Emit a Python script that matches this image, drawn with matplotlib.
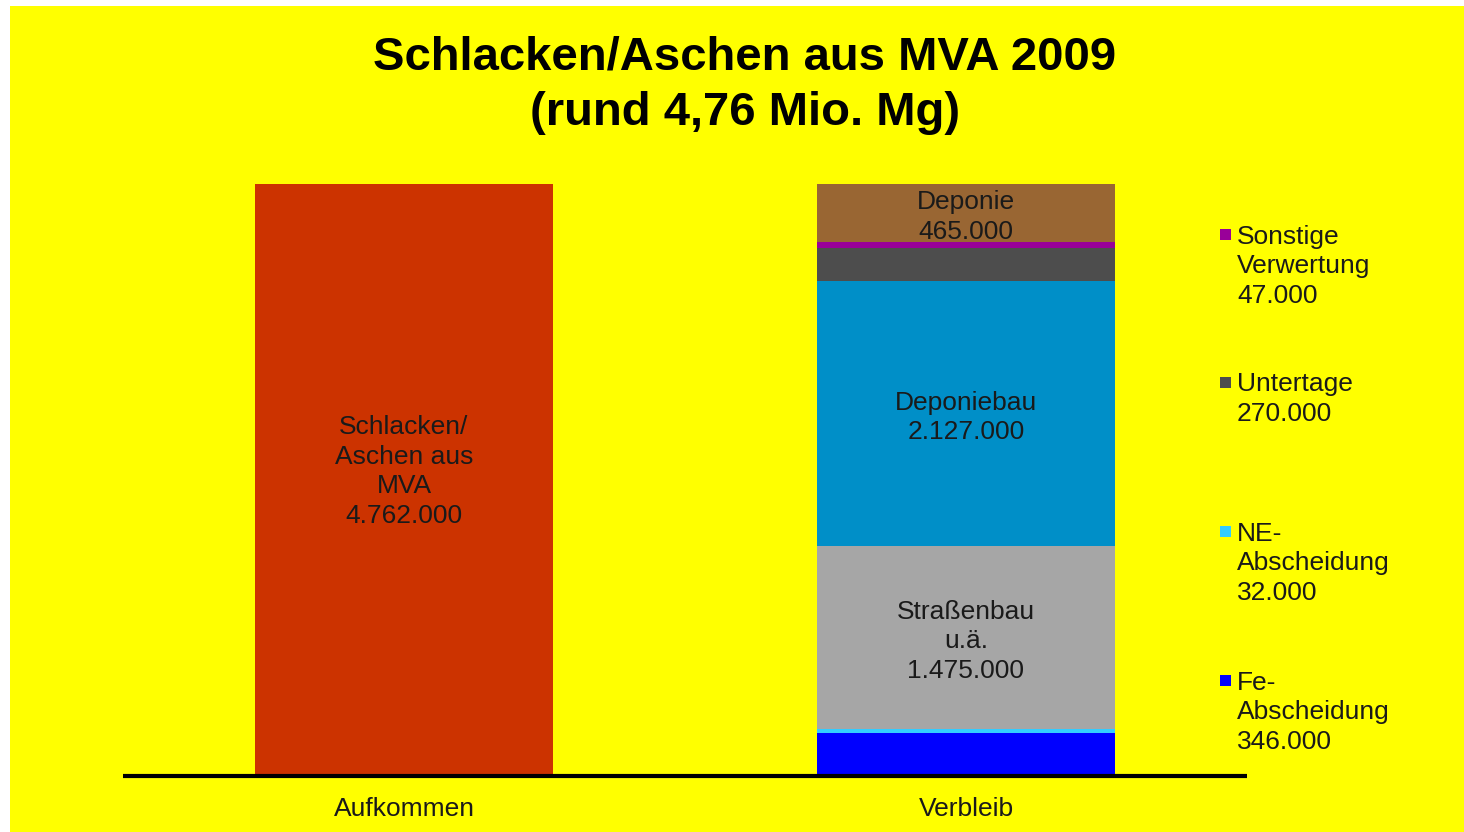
import matplotlib
matplotlib.use("Agg")
import matplotlib.pyplot as plt
from matplotlib.patches import Rectangle

plt.rcParams['font.family'] = ['Liberation Sans', 'DejaVu Sans']

# ---- data ----
categories = ['Aufkommen', 'Verbleib']
aufkommen_value = 4762000
# Verbleib stack, bottom to top
verbleib_names = ['Fe-\nAbscheidung', 'NE-\nAbscheidung', 'Straßenbau\nu.ä.', 'Deponiebau',
                  'Untertage', 'Sonstige\nVerwertung', 'Deponie']
verbleib_values = [346000, 32000, 1475000, 2127000, 270000, 47000, 465000]
verbleib_colors = ['#0000FF', '#33CCFF', '#A6A6A6', '#008FC8', '#4D4D4D', '#990099', '#996633']
# which segments are labelled inside the bar (others go to the legend)
inside_label = [False, False, True, True, False, False, True]
aufkommen_name = 'Schlacken/\nAschen aus\nMVA'
aufkommen_color = '#CC3300'
title = 'Schlacken/Aschen aus MVA 2009\n(rund 4,76 Mio. Mg)'


def fmt(v):
    return f"{v:,}".replace(',', '.')


FS = 19
LS = 1.29
W, H = 1464, 832
fig = plt.figure(figsize=(W / 100, H / 100), dpi=100, facecolor='white')
fig.patches.append(Rectangle((10 / W, 0), 1 - 10 / W, 1 - 6 / H, transform=fig.transFigure,
                             facecolor='#FFFF00', edgecolor='none', zorder=-10))

ax = fig.add_axes([123 / W, (H - 776) / H, (1247 - 123) / W, (776 - 184) / H])
ax.set_facecolor('none')

x = list(range(len(categories)))
width = 0.532

# Aufkommen bar
ax.bar(x[0], aufkommen_value, width=width, color=aufkommen_color, linewidth=0)
ax.annotate(aufkommen_name + '\n' + fmt(aufkommen_value), (x[0], aufkommen_value / 2),
            xytext=(0, 6), textcoords='offset points',
            ha='center', va='center', multialignment='center', fontsize=FS,
            linespacing=LS, color='#1a1a1a')

# Verbleib stacked bar
bottom = 0
for name, v, c, lab in zip(verbleib_names, verbleib_values, verbleib_colors, inside_label):
    ax.bar(x[1], v, width=width, bottom=bottom, color=c, linewidth=0)
    if lab:
        ax.annotate(name + '\n' + fmt(v), (x[1], bottom + v / 2),
                    xytext=(0, -3), textcoords='offset points',
                    ha='center', va='center', multialignment='center', fontsize=FS,
                    linespacing=LS, color='#1a1a1a')
    bottom += v

ax.set_xlim(-0.5, 1.5)
ax.set_ylim(0, max(aufkommen_value, sum(verbleib_values)))
ax.set_xticks(x)
ax.set_xticklabels(categories, fontsize=FS, color='#1a1a1a')
ax.tick_params(axis='x', length=0, pad=15)
ax.set_yticks([])
for s in ['top', 'left', 'right']:
    ax.spines[s].set_visible(False)
ax.spines['bottom'].set_linewidth(3)
ax.spines['bottom'].set_color('black')
ax.spines['bottom'].set_capstyle('butt')

# legend for the small segments (top to bottom)
legend_idx = [i for i, l in enumerate(inside_label) if not l][::-1]
legend_y = [234, 382, 531, 680]
line_px = 30
for i, ly in zip(legend_idx, legend_y):
    fig.patches.append(Rectangle(((1225 - 5.5) / W, (H - ly - 5.5) / H), 11 / W, 11 / H,
                                 transform=fig.transFigure, facecolor=verbleib_colors[i],
                                 edgecolor='none'))
    label = verbleib_names[i] + '\n' + fmt(verbleib_values[i])
    nlines = label.count('\n') + 1
    base = ly + 9 + (nlines - 1) * line_px
    fig.text(1237 / W, (H - base) / H, label,
             ha='left', va='baseline', fontsize=FS, linespacing=LS, color='#1a1a1a')

fig.text(745 / W, 1 - 85.5 / H, title, ha='center', va='center', fontsize=34,
         fontweight='bold', linespacing=1.33, color='black')

fig.savefig('out.png', dpi=100, facecolor=fig.get_facecolor())
